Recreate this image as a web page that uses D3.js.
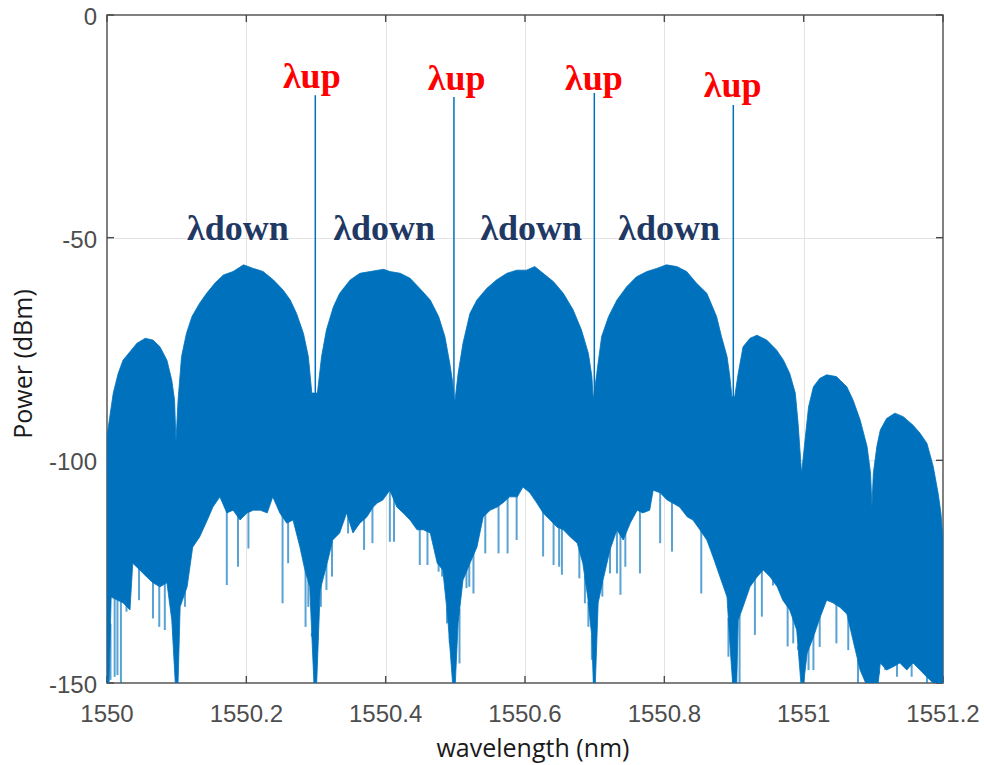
<!DOCTYPE html>
<html>
<head>
<meta charset="utf-8">
<script src="https://cdn.jsdelivr.net/npm/d3@7"></script>
<style>
  body { margin: 0; background: #fff; }
  .tick-label { font-family: "Liberation Sans", Arial, sans-serif; font-size: 24px; fill: #4d4d4d; }
  .axis-title { font-family: "Open Sans", sans-serif; font-size: 25px; fill: #1a1a1a; }
  .up-label { font-family: "Liberation Serif", "Times New Roman", serif; font-weight: bold; font-size: 36px; fill: #ff0000; }
  .down-label { font-family: "Liberation Serif", "Times New Roman", serif; font-weight: bold; font-size: 36px; fill: #1f3864; }
</style>
</head>
<body>
<div id="chart"></div>
<script>
// trace: [wavelength nm, power dBm]
var upperEnvelope = [
  [1550.000,-94.7],[1550.004,-90.2],[1550.009,-84.9],[1550.016,-80.5],[1550.023,-77.5],[1550.033,-75.6],
  [1550.043,-73.7],[1550.055,-72.6],[1550.066,-73.0],[1550.076,-74.5],[1550.086,-77.5],[1550.093,-82.0],
  [1550.097,-86.5],[1550.099,-95.8],[1550.102,-86.5],[1550.107,-76.7],[1550.114,-71.5],[1550.122,-67.7],
  [1550.133,-64.7],[1550.143,-62.5],[1550.155,-60.2],[1550.167,-58.4],[1550.181,-57.6],[1550.196,-56.1],
  [1550.210,-56.9],[1550.224,-57.6],[1550.239,-59.5],[1550.253,-61.8],[1550.263,-64.0],[1550.272,-67.0],
  [1550.282,-71.5],[1550.289,-76.7],[1550.294,-84.9],[1550.302,-84.9],[1550.308,-76.7],[1550.315,-70.7],
  [1550.325,-65.5],[1550.334,-62.5],[1550.349,-59.5],[1550.363,-58.0],[1550.378,-57.6],[1550.397,-57.1],
  [1550.406,-57.6],[1550.421,-58.0],[1550.435,-59.1],[1550.449,-61.4],[1550.464,-64.0],[1550.476,-67.7],
  [1550.485,-72.2],[1550.492,-78.2],[1550.496,-82.3],[1550.499,-87.2],[1550.504,-80.5],[1550.511,-73.7],
  [1550.521,-67.0],[1550.531,-64.0],[1550.545,-61.4],[1550.559,-59.5],[1550.574,-58.0],[1550.588,-57.3],
  [1550.602,-57.3],[1550.614,-56.5],[1550.626,-58.0],[1550.641,-59.9],[1550.655,-62.5],[1550.669,-66.2],
  [1550.681,-70.7],[1550.691,-76.0],[1550.696,-81.2],[1550.698,-86.5],[1550.703,-80.5],[1550.710,-72.2],
  [1550.720,-67.7],[1550.732,-64.0],[1550.746,-61.0],[1550.760,-58.8],[1550.775,-57.6],[1550.789,-56.9],
  [1550.803,-56.1],[1550.818,-56.5],[1550.832,-57.6],[1550.846,-60.2],[1550.861,-62.5],[1550.875,-67.7],
  [1550.882,-72.2],[1550.890,-76.7],[1550.894,-81.2],[1550.897,-85.7],[1550.901,-85.7],[1550.906,-80.5],
  [1550.913,-74.5],[1550.923,-72.6],[1550.933,-71.9],[1550.947,-73.0],[1550.961,-75.2],[1550.971,-77.5],
  [1550.980,-80.5],[1550.988,-84.9],[1550.992,-91.7],[1550.997,-102.9],[1551.002,-95.4],[1551.007,-88.0],
  [1551.014,-83.5],[1551.023,-81.6],[1551.033,-80.8],[1551.047,-81.2],[1551.062,-83.5],[1551.071,-86.5],
  [1551.081,-90.9],[1551.091,-96.9],[1551.096,-102.9],[1551.098,-110.4],[1551.100,-102.9],[1551.105,-96.9],
  [1551.110,-93.2],[1551.119,-90.6],[1551.131,-89.4],[1551.143,-90.2],[1551.157,-92.1],[1551.167,-93.9],
  [1551.177,-96.2],[1551.186,-101.4],[1551.193,-107.4],[1551.197,-111.8],[1551.200,-117.9]
];

var lowerEnvelope = [
  [1550.000,-150],[1550.003,-150],[1550.006,-130.7],[1550.023,-132.0],[1550.033,-133.6],[1550.037,-123.1],
  [1550.047,-124.6],[1550.057,-126.2],[1550.066,-127.5],[1550.076,-128.4],[1550.086,-127.5],[1550.093,-135.9],
  [1550.098,-150],[1550.102,-150],[1550.105,-132.9],[1550.115,-128.4],[1550.123,-119.5],[1550.133,-117.2],
  [1550.144,-113.4],[1550.152,-110.5],[1550.162,-108.2],[1550.172,-111.8],[1550.181,-111.2],[1550.191,-113.4],
  [1550.201,-111.8],[1550.210,-111.2],[1550.220,-111.2],[1550.230,-111.8],[1550.238,-108.2],[1550.248,-111.8],
  [1550.258,-114.1],[1550.267,-113.4],[1550.277,-119.5],[1550.284,-124.6],[1550.291,-128.4],[1550.297,-150],
  [1550.301,-150],[1550.306,-129.1],[1550.316,-123.1],[1550.324,-117.9],[1550.334,-116.3],[1550.344,-111.8],
  [1550.353,-116.3],[1550.363,-114.1],[1550.373,-112.7],[1550.382,-110.5],[1550.388,-109.6],[1550.396,-108.9],
  [1550.406,-106.7],[1550.416,-110.5],[1550.425,-111.8],[1550.435,-113.4],[1550.445,-115.6],[1550.454,-115.6],
  [1550.464,-116.3],[1550.474,-123.1],[1550.482,-124.6],[1550.489,-135.2],[1550.496,-150],[1550.500,-150],
  [1550.504,-136.5],[1550.511,-126.9],[1550.521,-123.1],[1550.531,-119.5],[1550.540,-112.7],[1550.550,-111.2],
  [1550.560,-110.5],[1550.568,-109.6],[1550.578,-108.2],[1550.589,-108.2],[1550.597,-106.0],[1550.607,-107.3],
  [1550.617,-109.6],[1550.626,-111.8],[1550.636,-113.4],[1550.646,-115.0],[1550.655,-115.6],[1550.665,-117.2],
  [1550.675,-118.6],[1550.683,-123.1],[1550.690,-130.7],[1550.696,-139.7],[1550.698,-150],[1550.701,-150],
  [1550.705,-132.0],[1550.712,-126.9],[1550.722,-120.1],[1550.732,-115.6],[1550.741,-117.9],[1550.751,-114.1],
  [1550.761,-111.2],[1550.769,-111.8],[1550.779,-111.2],[1550.784,-106.7],[1550.794,-107.3],[1550.804,-108.9],
  [1550.812,-109.6],[1550.822,-110.5],[1550.833,-112.7],[1550.841,-113.4],[1550.851,-115.6],[1550.861,-117.9],
  [1550.870,-121.7],[1550.880,-126.2],[1550.890,-130.7],[1550.894,-141.0],[1550.898,-150],[1550.904,-150],
  [1550.906,-135.9],[1550.913,-132.9],[1550.923,-128.4],[1550.933,-126.2],[1550.942,-124.6],[1550.952,-126.2],
  [1550.962,-128.4],[1550.970,-131.4],[1550.980,-133.6],[1550.990,-138.1],[1550.996,-150],[1551.000,-150],
  [1551.005,-143.3],[1551.014,-139.7],[1551.023,-135.5],[1551.033,-131.4],[1551.042,-132.0],[1551.052,-133.0],
  [1551.062,-134.5],[1551.071,-140.5],[1551.081,-147.1],[1551.089,-150],[1551.107,-150],[1551.110,-145.5],
  [1551.119,-147.1],[1551.128,-146.4],[1551.138,-145.5],[1551.148,-147.1],[1551.157,-145.5],[1551.167,-147.1],
  [1551.177,-148.7],[1551.186,-150],[1551.200,-150]
];

// single deep samples that poke out below the lower envelope
var dips = [
  [1550.005,-149.3],[1550.011,-148.6],[1550.015,-148.2],[1550.020,-150],[1550.028,-134.0],[1550.046,-131.4],
  [1550.066,-135.5],[1550.075,-137.4],[1550.083,-138.1],[1550.090,-131.7],[1550.112,-132.9],[1550.172,-128.0],
  [1550.188,-123.9],[1550.203,-119.8],[1550.252,-132.1],[1550.260,-123.1],[1550.285,-137.4],[1550.289,-132.9],
  [1550.294,-139.6],[1550.307,-132.9],[1550.315,-129.1],[1550.323,-126.1],[1550.346,-116.4],[1550.369,-120.1],
  [1550.381,-118.6],[1550.406,-118.3],[1550.412,-118.3],[1550.449,-123.5],[1550.460,-123.5],[1550.476,-125.0],
  [1550.481,-126.1],[1550.488,-136.6],[1550.492,-139.2],[1550.506,-145.6],[1550.516,-128.7],[1550.520,-128.4],
  [1550.526,-129.9],[1550.543,-120.9],[1550.562,-120.9],[1550.575,-120.9],[1550.588,-117.9],[1550.626,-121.6],
  [1550.641,-123.5],[1550.649,-123.9],[1550.653,-125.7],[1550.678,-126.5],[1550.686,-132.1],[1550.691,-137.4],
  [1550.696,-144.8],[1550.711,-130.6],[1550.722,-125.4],[1550.732,-125.4],[1550.737,-130.2],[1550.744,-123.9],
  [1550.765,-125.4],[1550.794,-118.6],[1550.811,-120.5],[1550.853,-129.9],[1550.892,-144.1],[1550.908,-150],
  [1550.930,-139.2],[1550.940,-135.1],[1550.956,-128.1],[1550.977,-141.8],[1550.985,-141.1],[1550.992,-142.6],
  [1551.007,-147.1],[1551.014,-147.1],[1551.023,-141.9],[1551.047,-141.1],[1551.064,-142.6],[1551.078,-150],
  [1551.108,-147.1],[1551.117,-147.1],[1551.134,-148.6],[1551.155,-148.6],[1551.177,-150]
];

// upstream carriers
var upWl = [1550.299, 1550.498, 1550.6995, 1550.899];
var upDb = [-18.0, -18.4, -17.5, -20.2];

// annotation anchors (wavelength, dBm of text baseline)
var upLabelWl = [1550.294, 1550.502, 1550.699, 1550.898];
var upLabelDb = [-16.4, -16.8, -16.8, -18.4];
var downLabelWl = [1550.188, 1550.398, 1550.609, 1550.807];
var downLabelDb = [-50.5, -50.5, -50.5, -50.5];

var xTicks = [1550, 1550.2, 1550.4, 1550.6, 1550.8, 1551, 1551.2];
var xTickLabels = ["1550", "1550.2", "1550.4", "1550.6", "1550.8", "1551", "1551.2"];
var yTicks = [0, -50, -100, -150];
var yTickLabels = ["0", "-50", "-100", "-150"];

var width = 984,
    height = 765,
    margin = {top: 15, right: 41, bottom: 82, left: 107},
    plotW = width - margin.left - margin.right,
    plotH = height - margin.top - margin.bottom,
    blue = "#0072BD";

var svg = d3.select("#chart").append("svg")
    .attr("width", width)
    .attr("height", height);

var x = d3.scaleLinear().domain([1550, 1551.2]).range([margin.left, margin.left + plotW]),
    y = d3.scaleLinear().domain([-150, 0]).range([margin.top + plotH, margin.top]);

svg.append("defs").append("clipPath").attr("id", "plot-clip")
  .append("rect")
    .attr("x", margin.left).attr("y", margin.top)
    .attr("width", plotW).attr("height", plotH);

// grid
var grid = svg.append("g").attr("stroke", "#e3e3e3").attr("stroke-width", 1);
grid.selectAll(".gx").data(xTicks.slice(1, -1)).enter().append("line")
    .attr("x1", function(d) { return Math.round(x(d)) + 0.5; })
    .attr("x2", function(d) { return Math.round(x(d)) + 0.5; })
    .attr("y1", margin.top).attr("y2", margin.top + plotH);
grid.selectAll(".gy").data(yTicks.slice(1, -1)).enter().append("line")
    .attr("y1", function(d) { return Math.round(y(d)) + 0.5; })
    .attr("y2", function(d) { return Math.round(y(d)) + 0.5; })
    .attr("x1", margin.left).attr("x2", margin.left + plotW);

// frame + inward ticks on all four sides
var frame = svg.append("g").attr("stroke", "#4a4a4a").attr("stroke-width", 1.4).attr("fill", "none");
frame.append("rect")
    .attr("x", margin.left).attr("y", margin.top)
    .attr("width", plotW).attr("height", plotH);
var tl = 7;
xTicks.forEach(function(t) {
  frame.append("line").attr("x1", x(t)).attr("x2", x(t)).attr("y1", margin.top + plotH).attr("y2", margin.top + plotH - tl);
  frame.append("line").attr("x1", x(t)).attr("x2", x(t)).attr("y1", margin.top).attr("y2", margin.top + tl);
});
yTicks.forEach(function(t) {
  frame.append("line").attr("y1", y(t)).attr("y2", y(t)).attr("x1", margin.left).attr("x2", margin.left + tl);
  frame.append("line").attr("y1", y(t)).attr("y2", y(t)).attr("x1", margin.left + plotW).attr("x2", margin.left + plotW - tl);
});

// spectrum
var plot = svg.append("g").attr("clip-path", "url(#plot-clip)");

var lowerAt = d3.scaleLinear()
    .domain(lowerEnvelope.map(function(d) { return d[0]; }))
    .range(lowerEnvelope.map(function(d) { return d[1]; }));

plot.selectAll(".dip").data(dips).enter().append("line")
    .attr("class", "dip")
    .attr("x1", function(d) { return x(d[0]); })
    .attr("x2", function(d) { return x(d[0]); })
    .attr("y1", function(d) { return y(lowerAt(d[0])) - 2; })
    .attr("y2", function(d) { return y(d[1]); })
    .attr("stroke", blue)
    .attr("stroke-width", 2)
    .attr("stroke-opacity", 0.65);

var line = d3.line()
    .x(function(d) { return x(d[0]); })
    .y(function(d) { return y(d[1]); });

var outline = upperEnvelope.concat(lowerEnvelope.slice().reverse());
plot.append("path")
    .attr("d", line(outline) + "Z")
    .attr("fill", blue)
    .attr("stroke", blue)
    .attr("stroke-width", 0.8);

plot.selectAll(".carrier").data(upWl).enter().append("line")
    .attr("class", "carrier")
    .attr("x1", function(d) { return x(d); })
    .attr("x2", function(d) { return x(d); })
    .attr("y1", function(d, i) { return y(upDb[i]); })
    .attr("y2", y(-150))
    .attr("stroke", blue)
    .attr("stroke-width", 1.5);

// tick labels
svg.selectAll(".xl").data(xTicks).enter().append("text")
    .attr("class", "tick-label")
    .attr("x", function(d) { return x(d); })
    .attr("y", 722)
    .attr("text-anchor", "middle")
    .text(function(d, i) { return xTickLabels[i]; });

svg.selectAll(".yl").data(yTicks).enter().append("text")
    .attr("class", "tick-label")
    .attr("x", 97)
    .attr("y", function(d) { return y(d) + 10; })
    .attr("text-anchor", "end")
    .text(function(d, i) { return yTickLabels[i]; });

// axis titles
svg.append("text")
    .attr("class", "axis-title")
    .attr("x", 533).attr("y", 757)
    .attr("text-anchor", "middle")
    .text("wavelength (nm)");

svg.append("text")
    .attr("class", "axis-title")
    .attr("transform", "translate(32,364) rotate(-90)")
    .attr("text-anchor", "middle")
    .text("Power (dBm)");

// annotations
svg.selectAll(".up-label").data(upLabelWl).enter().append("text")
    .attr("class", "up-label")
    .attr("x", function(d) { return x(d); })
    .attr("y", function(d, i) { return y(upLabelDb[i]); })
    .attr("text-anchor", "middle")
    .text("\u03bbup");

svg.selectAll(".down-label").data(downLabelWl).enter().append("text")
    .attr("class", "down-label")
    .attr("x", function(d) { return x(d); })
    .attr("y", function(d, i) { return y(downLabelDb[i]); })
    .attr("text-anchor", "middle")
    .text("\u03bbdown");
</script>
</body>
</html>
